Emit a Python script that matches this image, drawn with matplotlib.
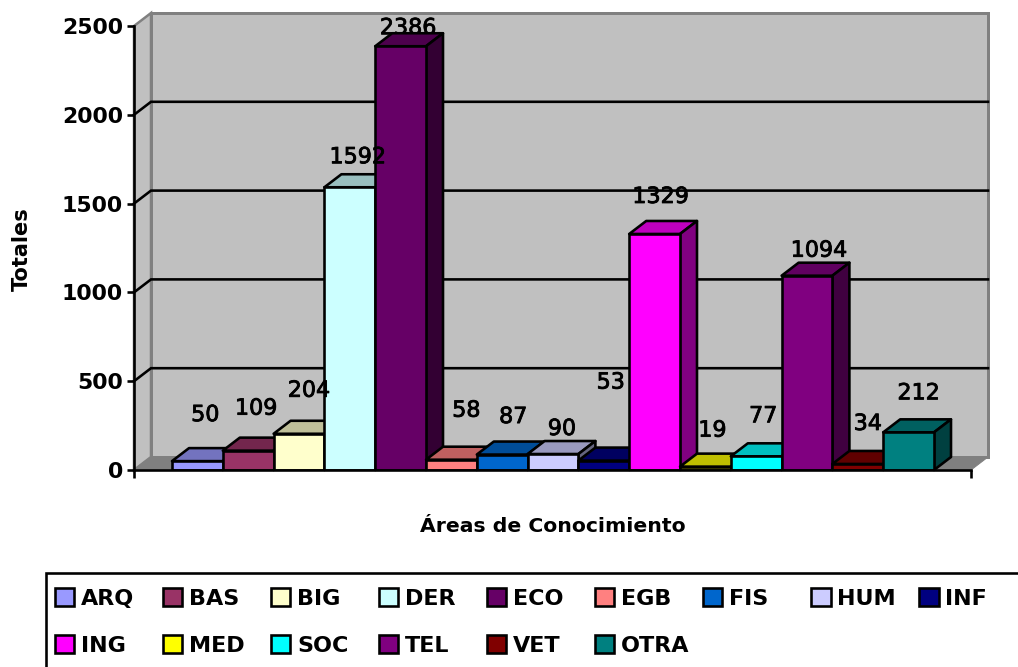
import numpy as np
import matplotlib
matplotlib.use("Agg")
import matplotlib.pyplot as plt
from matplotlib.patches import Polygon, Patch, Rectangle
from matplotlib import patheffects as pe
from matplotlib.colors import to_rgb

areas = ["ARQ", "BAS", "BIG", "DER", "ECO", "EGB", "FIS", "HUM", "INF",
         "ING", "MED", "SOC", "TEL", "VET", "OTRA"]
totals = [50, 109, 204, 1592, 2386, 58, 87, 90, 53, 1329, 19, 77, 1094, 34, 212]
colors = ["#9999FF", "#993366", "#FFFFCC", "#CCFFFF", "#660066", "#FF8080", "#0066CC",
          "#CCCCFF", "#000080", "#FF00FF", "#FFFF00", "#00FFFF", "#800080", "#800000", "#008080"]
y_ticks = [0, 500, 1000, 1500, 2000, 2500]

# label offsets from the bar's front-top centre, in pixels
label_shift = [(8, 46), (8, 42), (10, 43), (8, 30), (7.5, 18), (15, 49), (11, 37.5), (9, 25),
               (7, 78), (6, 37), (7, 36), (7, 40), (12, 25), (10, 40), (10, 39)]

W, H = 1018, 667
PT = 72 / 100
fig = plt.figure(figsize=(W / 100, H / 100), dpi=100, facecolor="white")
L, R, T, B = 134, 971, 26, 470
ax = fig.add_axes([L / W, 1 - B / H, (R - L) / W, (B - T) / H])

# geometry of the pseudo-3D view
bar_w = 50.8                 # px per bar
first = 172                  # px of first bar
depth_px = (17, 13)
ax.set_xlim((L - first) / bar_w, (R - first) / bar_w)
ax.set_ylim(y_ticks[0], y_ticks[-1])
ax.patch.set_visible(False)
dx = depth_px[0] / bar_w
dy = depth_px[1] / ((B - T) / y_ticks[-1])
x0, x1 = ax.get_xlim()
y0, y1 = ax.get_ylim()
EDGE = 2.6 * PT


def darker(c, f):
    return tuple(v * f for v in to_rgb(c))


# walls and floor
ax.add_patch(Polygon([(x0 + dx, y0 + dy), (x1 + dx, y0 + dy), (x1 + dx, y1 + dy), (x0 + dx, y1 + dy)],
                     fc="#C0C0C0", ec="#808080", lw=3 * PT, clip_on=False, zorder=0.2))
ax.add_patch(Polygon([(x0, y0), (x0 + dx, y0 + dy), (x0 + dx, y1 + dy), (x0, y1)],
                     fc="#C0C0C0", ec="#808080", lw=2.5 * PT, clip_on=False, zorder=0.2))
ax.add_patch(Polygon([(x0, y0), (x1, y0), (x1 + dx, y0 + dy), (x0 + dx, y0 + dy)],
                     fc="#808080", ec="#808080", lw=1 * PT, clip_on=False, zorder=0.3))
for t in y_ticks[1:-1]:
    ax.plot([x0, x0 + dx, x1 + dx], [t, t + dy, t + dy], color="black", lw=2.6 * PT,
            clip_on=False, zorder=0.4, solid_joinstyle="miter")

# bars
for i, (v, c) in enumerate(zip(totals, colors)):
    z = 2 + i * 0.1
    ax.bar(i, v, width=1, align="edge", color=c, edgecolor="black", linewidth=EDGE, zorder=z + 0.02)
    ax.add_patch(Polygon([(i, v), (i + 1, v), (i + 1 + dx, v + dy), (i + dx, v + dy)],
                         fc=darker(c, 0.75), ec="black", lw=EDGE, clip_on=False, zorder=z,
                         joinstyle="round"))
    ax.add_patch(Polygon([(i + 1, 0), (i + 1 + dx, dy), (i + 1 + dx, v + dy), (i + 1, v)],
                         fc=darker(c, 0.5), ec="black", lw=EDGE, clip_on=False, zorder=z + 0.01,
                         joinstyle="round"))

# value labels
tallest = int(np.argmax(totals))
for i, (v, s) in enumerate(zip(totals, label_shift)):
    ax.annotate(str(v), (i + 0.5, v), xytext=(s[0] * PT, s[1] * PT), textcoords="offset points",
                ha="center", va="center", fontsize=16, color="black", annotation_clip=False,
                zorder=1 if i == tallest else 5,
                path_effects=[pe.withStroke(linewidth=0.6, foreground="black")])

# axes
for side in ("top", "right"):
    ax.spines[side].set_visible(False)
for side in ("left", "bottom"):
    ax.spines[side].set_linewidth(2.6 * PT)
    ax.spines[side].set_zorder(6)
ax.set_yticks(y_ticks)
ax.set_xticks([x0, x1])
ax.set_xticklabels([])
ax.tick_params(axis="y", length=7 * PT, width=2.6 * PT, pad=4 * PT, labelsize=15.8)
ax.tick_params(axis="x", length=8 * PT, width=2.6 * PT)
for t in ax.get_yticklabels():
    t.set_fontweight("bold")
ax.set_ylabel("Totales", fontsize=15, fontweight="bold")
ax.yaxis.set_label_coords((22 - L) / (R - L), (B - 249) / (B - T))
ax.yaxis.label.set_verticalalignment("center")
ax.set_xlabel("Áreas de Conocimiento", fontsize=14.7, fontweight="bold")
ax.xaxis.set_label_coords((553 - L) / (R - L), (B - 526) / (B - T))
ax.xaxis.label.set_verticalalignment("center")

# legend box runs past the right and bottom edges of the picture
fig.add_artist(Rectangle((46 / W, 1 - 690 / H), 1000 / W, (690 - 573) / H, transform=fig.transFigure,
                         fc="white", ec="black", lw=2.6 * PT, zorder=1))

# legend: matplotlib fills column by column, so order entries to read row by row
ncols = 9
order = []
cols = [[] for _ in range(ncols)]
for k in range(len(areas)):
    cols[k % ncols].append(k)
for col in cols:
    order.extend(col)
handles = [Patch(facecolor=colors[i], edgecolor="black", linewidth=2.6 * PT) for i in order]
labels = [areas[i] for i in order]
leg = fig.legend(handles, labels, ncols=ncols, loc="upper left",
                 bbox_to_anchor=(55 / W, 1 - 588 / H), bbox_transform=fig.transFigure,
                 borderaxespad=0, frameon=False,
                 prop={"size": 16, "weight": "bold"},
                 handlelength=0.86, handleheight=0.86, handletextpad=0.3,
                 columnspacing=0.62, labelspacing=1.2, borderpad=0)
leg.set_zorder(2)
leg._legend_handle_box.mode = "equal"

fig.savefig("out.png", dpi=100)
